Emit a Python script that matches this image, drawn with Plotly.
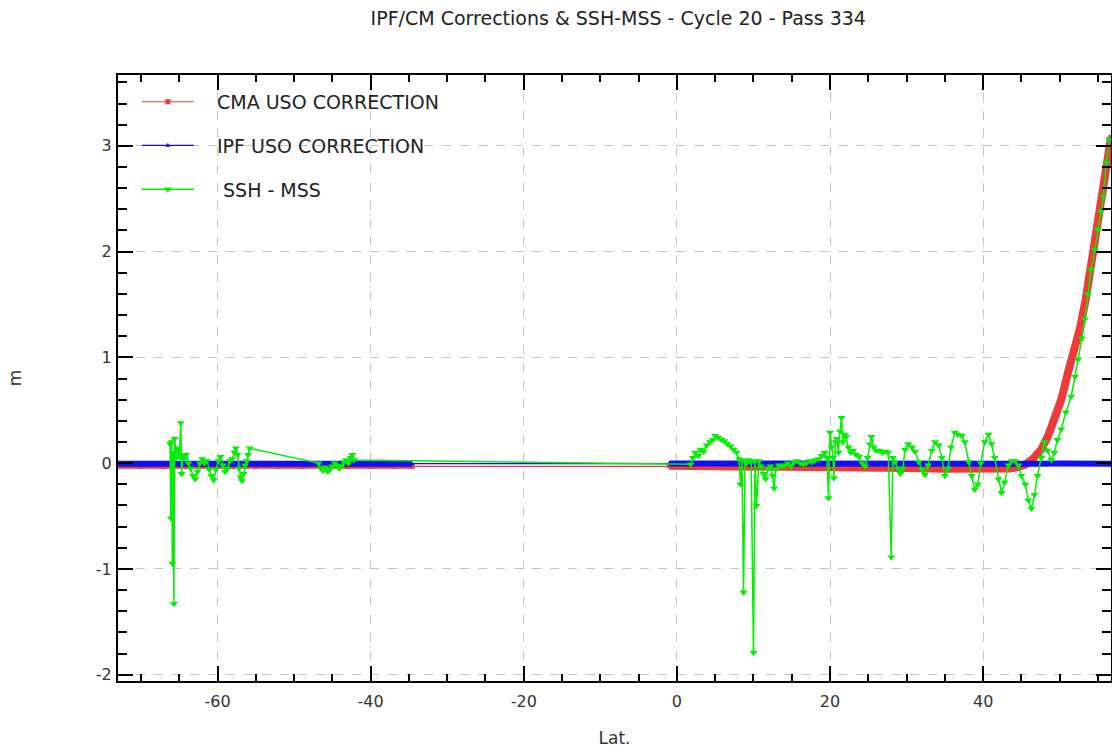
import plotly.graph_objects as go

title_text = "IPF/CM Corrections & SSH-MSS - Cycle 20 - Pass 334"
x_label = "Lat."
y_label = "m"
names = ["CMA USO CORRECTION", "IPF USO CORRECTION", " SSH - MSS"]
x_tick_vals = [-60, -40, -20, 0, 20, 40]
x_tick_text = ["-60", "-40", "-20", "0", "20", "40"]
y_tick_vals = [-2, -1, 0, 1, 2, 3]
y_tick_text = ["-2", "-1", "0", "1", "2", "3"]

# IPF USO correction (blue) - south and north segments
ipf_s_lat = [-73.0, -70.0, -67.0, -64.0, -61.0, -58.0, -55.0, -52.0, -49.0, -46.0, -43.0, -40.0, -37.0, -34.6]
ipf_s_val = [-0.005, -0.005, -0.006, -0.005, -0.005, -0.004, -0.005, -0.005, -0.006, -0.005, -0.005, -0.004, -0.005, -0.005]
ipf_n_lat = [-1.0, 2.0, 5.0, 8.0, 11.0, 14.0, 17.0, 20.0, 23.0, 26.0, 29.0, 32.0, 35.0, 38.0, 41.0, 44.0, 47.0, 50.0, 53.0, 56.7]
ipf_n_val = [-0.004, -0.005, -0.005, -0.005, -0.004, -0.005, -0.005, -0.005, -0.006, -0.005, -0.005, -0.005, -0.004, -0.005, -0.005, -0.005, -0.005, -0.004, -0.005, -0.005]

# CMA USO correction (red)
cma_s_lat = [-73.0, -70.0, -67.0, -64.0, -61.0, -58.0, -55.0, -52.0, -49.0, -46.0, -43.0, -40.0, -37.0, -34.6]
cma_s_val = [-0.03, -0.03, -0.031, -0.03, -0.03, -0.029, -0.03, -0.03, -0.031, -0.03, -0.03, -0.029, -0.03, -0.03]
cma_n_lat = [-1.0, 5.0, 10.0, 15.0, 20.0, 25.0, 30.0, 35.0, 40.0, 42.0, 43.5, 44.5, 45.5, 46.5, 47.6, 48.5, 49.4,
             50.2, 51.1, 52.0, 52.7, 53.4, 54.0, 54.5, 55.0, 55.7, 56.3, 56.7]
cma_n_val = [-0.025, -0.026, -0.028, -0.03, -0.033, -0.038, -0.045, -0.052, -0.06, -0.06, -0.05, -0.038, -0.015, 0.04,
             0.13, 0.26, 0.42, 0.6, 0.86, 1.08, 1.29, 1.55, 1.83, 2.05, 2.3, 2.62, 2.9, 3.08]

# SSH - MSS (green)
ssh_lat = [-66.2, -66.1, -66.0, -65.9, -65.8, -65.7, -65.6, -65.4, -65.2, -65.0, -64.8, -64.7, -64.5, -64.3, -64.1,
           -63.8, -63.5, -63.2, -62.9, -62.6, -62.3, -62.0, -61.7, -61.4, -61.1, -60.8, -60.5, -60.2, -59.9, -59.6,
           -59.3, -59.0, -58.7, -58.4, -58.1, -57.8, -57.6, -57.4, -57.2, -57.0, -56.8, -56.6, -56.4, -56.2, -56.0,
           -55.8,
           -46.8, -46.5, -46.2, -45.9, -45.6, -45.3, -45.0, -44.7, -44.4, -44.1, -43.8, -43.5, -43.2, -42.9, -42.6,
           -42.4, -42.2,
           1.8, 2.1, 2.4, 2.8, 3.1, 3.5, 3.9, 4.3, 4.7, 5.0, 5.4, 5.8, 6.2, 6.6, 7.0, 7.4, 7.8, 8.1, 8.3, 8.5, 8.7,
           8.9, 9.1, 9.4, 9.7, 10.0, 10.2, 10.4, 10.7, 11.0, 11.3, 11.6, 11.9, 12.2, 12.5, 12.7, 12.9, 13.3, 13.7,
           14.1, 14.5, 14.9, 15.3, 15.7, 16.1, 16.5, 16.9, 17.3, 17.7, 18.1, 18.5, 18.9, 19.3, 19.6, 19.8, 20.0,
           20.2, 20.4, 20.5, 20.7, 20.9, 21.1, 21.3, 21.5, 21.7, 21.9, 22.1, 22.4, 22.7, 23.0, 23.4, 23.8, 24.2,
           24.6, 24.9, 25.2, 25.4, 25.7, 26.0, 26.4, 26.8, 27.2, 27.6, 28.0, 28.2, 28.5, 28.9, 29.2, 29.5, 29.8,
           30.2, 30.7, 31.1, 31.6, 32.0, 32.4, 32.8, 33.3, 33.7, 34.2, 34.6, 35.0, 35.4, 35.8, 36.3, 36.7, 37.2,
           37.6, 38.1, 38.5, 38.9, 39.3, 39.7, 40.2, 40.7, 41.1, 41.5, 42.0, 42.4, 42.8, 43.3, 43.7, 44.2, 44.6,
           45.0, 45.5, 45.9, 46.3, 46.7, 47.1, 47.6, 48.0, 48.4, 48.9, 49.3, 49.7, 50.2, 50.8, 51.5, 52.0, 52.4,
           52.9, 53.3, 53.7, 54.1, 54.6, 55.0, 55.4, 55.7, 56.1, 56.5]
ssh_val = [0.18, -0.52, 0.2, -0.95, 0.1, -1.33, 0.23, 0.05, 0.14, 0.06, 0.38, -0.1, 0.08, 0.05, 0.08,
           0.0, -0.05, -0.12, -0.15, -0.08, 0.0, 0.04, 0.0, 0.02, -0.06, -0.12, -0.16, -0.06, 0.02, 0.06,
           -0.02, -0.08, -0.05, 0.02, 0.04, 0.1, 0.14, 0.08, -0.05, -0.13, -0.17, -0.1, -0.02, 0.02, 0.08,
           0.14,
           0.0, -0.05, -0.07, -0.04, -0.08, -0.06, -0.03, 0.0, -0.02, -0.05, -0.03, 0.01, 0.03, 0.0, 0.05,
           0.08, 0.03,
           -0.01, 0.05, 0.1, 0.07, 0.13, 0.11, 0.17, 0.2, 0.22, 0.26, 0.24, 0.22, 0.21, 0.18, 0.16, 0.13, 0.1, 0.04, -0.2, 0.03, -1.22,
           0.02, 0.0, 0.03, 0.01, -1.79, 0.02, -0.4, 0.02, -0.03, -0.1, -0.15, -0.05, -0.03, -0.12, -0.24, -0.06, -0.02, -0.03,
           -0.02, 0.0, -0.03, 0.01, 0.02, 0.0, -0.01, 0.0, 0.02, 0.01, 0.03, 0.04, 0.07, 0.1, 0.05, -0.33, 0.29,
           0.15, 0.05, -0.14, 0.2, 0.23, 0.1, 0.3, 0.43, 0.2, 0.27, 0.25, 0.15, 0.1, 0.12, 0.08, 0.06, 0.0,
           -0.03, 0.05, 0.18, 0.25, 0.15, 0.12, 0.12, 0.1, 0.11, 0.1, -0.89, 0.05, 0.01, -0.05, -0.1, -0.05, 0.13,
           0.18, 0.15, 0.11, 0.01, -0.06, -0.11, -0.02, 0.12, 0.2, 0.17, 0.05, -0.12, -0.05, 0.15, 0.29, 0.27, 0.26,
           0.2, 0.01, -0.12, -0.25, -0.2, 0.0, 0.2, 0.27, 0.18, 0.05, -0.15, -0.28, -0.18, -0.02, 0.02, 0.02, -0.02,
           -0.12, -0.2, -0.35, -0.43, -0.3, -0.12, 0.05, 0.2, 0.12, 0.03, 0.1, 0.22, 0.32, 0.48, 0.63, 0.82, 0.98,
           1.18, 1.36, 1.6, 1.83, 2.02, 2.21, 2.38, 2.52, 2.84, 3.06]

red = "#f03a3a"
blue = "#1010f0"
green = "#00f000"
FONT = "DejaVu Sans"
PAD = "\u00a0\u00a0\u00a0"  # legend text gap after the symbol

fig = go.Figure()

# thick bands (dense sample look)
fig.add_trace(go.Scatter(x=cma_s_lat, y=cma_s_val, mode="lines", line=dict(color=red, width=5),
                         showlegend=False, hoverinfo="skip"))
fig.add_trace(go.Scatter(x=cma_n_lat, y=cma_n_val, mode="lines", line=dict(color=red, width=8),
                         showlegend=False, hoverinfo="skip"))
fig.add_trace(go.Scatter(x=cma_s_lat + cma_n_lat, y=cma_s_val + cma_n_val, mode="lines+markers",
                         name=PAD + names[0].replace(" ", "\u00a0"), legendgroup="a",
                         line=dict(color=red, width=1.2), marker=dict(symbol="square", size=5, color=red)))

fig.add_trace(go.Scatter(x=ipf_s_lat, y=ipf_s_val, mode="lines", line=dict(color=blue, width=6),
                         showlegend=False, hoverinfo="skip"))
fig.add_trace(go.Scatter(x=ipf_n_lat, y=ipf_n_val, mode="lines", line=dict(color=blue, width=6),
                         showlegend=False, hoverinfo="skip"))
fig.add_trace(go.Scatter(x=ipf_s_lat + ipf_n_lat, y=ipf_s_val + ipf_n_val, mode="lines+markers",
                         name=PAD + names[1].replace(" ", "\u00a0"), legendgroup="b",
                         line=dict(color=blue, width=1.2), marker=dict(symbol="triangle-up", size=5, color=blue)))

fig.add_trace(go.Scatter(x=ssh_lat, y=ssh_val, mode="lines+markers",
                         name=PAD + names[2].replace(" ", "\u00a0"), legendgroup="c",
                         line=dict(color=green, width=1.5),
                         marker=dict(symbol="triangle-down", size=7, color=green)))

axis_common = dict(
    showline=True, linecolor="black", linewidth=2, mirror="allticks",
    ticks="inside", ticklen=15, tickwidth=2, tickcolor="black",
    showgrid=True, gridcolor="#c4c4c4", griddash="dash", gridwidth=1,
    zeroline=False, automargin=False,
    tickfont=dict(family=FONT, size=16, color="#333333"),
)

fig.update_xaxes(range=[-73.0, 56.7], tickmode="array", tickvals=x_tick_vals, ticktext=x_tick_text,
                 minor=dict(dtick=5, tick0=0, ticks="inside", ticklen=7, tickwidth=2, tickcolor="black", showgrid=False),
                 title=dict(text=x_label, font=dict(family=FONT, size=17, color="#333333"), standoff=22),
                 ticklabelstandoff=5,
                 **axis_common)
fig.update_yaxes(range=[-2.06, 3.67], tickmode="array", tickvals=y_tick_vals, ticktext=y_tick_text,
                 minor=dict(dtick=0.2, tick0=0, ticks="inside", ticklen=9, tickwidth=2, tickcolor="black", showgrid=False),
                 title=dict(text=y_label, font=dict(family=FONT, size=17, color="#333333"), standoff=70),
                 ticklabelstandoff=1,
                 **axis_common)

fig.update_layout(
    width=1112, height=749,
    margin=dict(l=118, r=1, t=75, b=68, autoexpand=False),
    paper_bgcolor="white", plot_bgcolor="white",
    title=dict(text=title_text, x=0.556, xanchor="center", y=0.976, yanchor="middle",
               font=dict(family=FONT, size=19, color="#222222")),
    legend=dict(x=0.019, y=0.987, xanchor="left", yanchor="top", bgcolor="rgba(0,0,0,0)",
                font=dict(family=FONT, size=19, color="#222222"),
                tracegroupgap=16, itemwidth=52, traceorder="grouped"),
    showlegend=True,
)

fig.write_html("out.html", config={"displayModeBar": False},
               post_script="document.body.style.margin='0px';document.body.style.overflow='hidden';")
